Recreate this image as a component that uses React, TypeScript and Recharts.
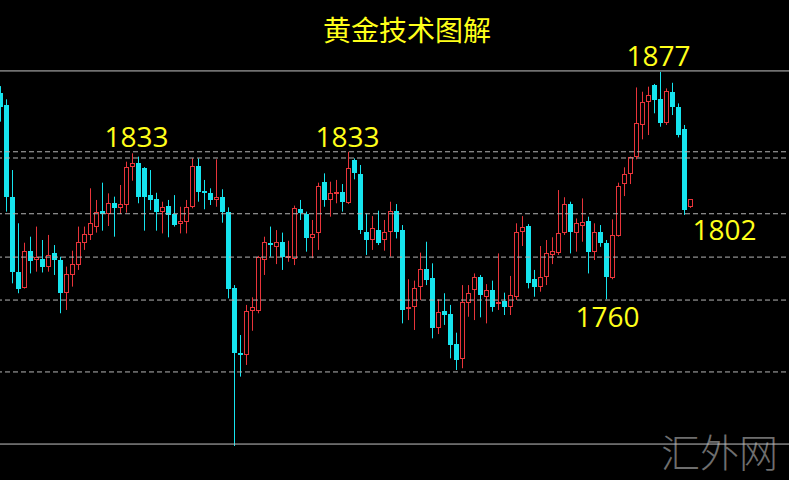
import React from 'react';
import { ComposedChart, Bar, XAxis, YAxis, ReferenceLine, ReferenceDot } from 'recharts';

// ---- data (gold price candles) ----
const opens = [
  1866.0, 1859.9, 1812.8, 1774.2, 1766.0, 1785.0, 1780.2, 1780.5, 1776.8, 1783.6,
  1780.2, 1763.1, 1772.5, 1777.6, 1789.1, 1793.1, 1797.4, 1805.6, 1803.9, 1809.7,
  1806.8, 1808.5, 1827.9, 1829.9, 1827.4, 1813.6, 1811.4, 1805.1, 1808.0, 1803.9,
  1798.7, 1799.9, 1807.3, 1828.6, 1815.9, 1814.8, 1811.1, 1812.8, 1805.1, 1765.6,
  1732.5, 1731.3, 1754.1, 1754.1, 1780.2, 1789.1, 1787.0, 1789.6, 1781.6, 1780.5,
  1806.3, 1803.9, 1791.3, 1793.9, 1820.5, 1811.1, 1814.2, 1815.0, 1809.4, 1831.7,
  1824.5, 1794.8, 1790.5, 1795.6, 1790.5, 1794.8, 1805.6, 1795.6, 1755.3, 1756.2,
  1766.5, 1775.4, 1770.8, 1745.0, 1754.1, 1752.4, 1737.0, 1729.1, 1758.2, 1764.8,
  1771.3, 1761.3, 1764.8, 1757.6, 1759.3, 1756.2, 1761.0, 1794.8, 1797.7, 1770.3,
  1766.1, 1771.6, 1782.8, 1784.0, 1793.9, 1809.0, 1793.9, 1797.9, 1800.4, 1784.5,
  1794.8, 1789.1, 1770.8, 1792.6, 1819.3, 1824.5, 1833.0, 1849.7, 1861.7, 1870.3,
  1862.9, 1850.9, 1866.8, 1859.1, 1847.4, 1807.3,
];
const highs = [
  1869.7, 1862.9, 1826.5, 1799.1, 1789.1, 1792.2, 1797.4, 1790.5, 1793.1, 1787.9,
  1781.9, 1776.8, 1785.0, 1797.4, 1797.4, 1817.1, 1811.1, 1820.0, 1814.5, 1812.8,
  1818.8, 1830.8, 1835.1, 1833.4, 1828.0, 1826.5, 1814.8, 1810.2, 1811.1, 1813.6,
  1807.6, 1811.1, 1832.5, 1832.5, 1821.4, 1817.1, 1832.0, 1816.6, 1807.3, 1767.3,
  1741.6, 1757.1, 1761.0, 1782.3, 1792.2, 1797.4, 1795.6, 1794.3, 1790.1, 1808.2,
  1811.1, 1805.1, 1800.8, 1820.0, 1824.8, 1820.5, 1821.4, 1819.3, 1835.9, 1832.5,
  1829.1, 1804.2, 1802.8, 1805.6, 1800.8, 1810.2, 1809.0, 1798.2, 1770.3, 1769.6,
  1784.0, 1789.6, 1778.5, 1760.0, 1763.1, 1757.1, 1742.8, 1767.3, 1767.3, 1773.3,
  1772.5, 1767.8, 1769.6, 1783.6, 1763.4, 1772.0, 1799.1, 1802.8, 1798.7, 1775.1,
  1787.4, 1790.5, 1791.9, 1816.2, 1812.5, 1810.2, 1801.6, 1811.9, 1802.5, 1799.1,
  1798.2, 1790.5, 1801.1, 1820.0, 1827.9, 1833.4, 1869.0, 1866.8, 1869.4, 1870.8,
  1877.0, 1868.5, 1871.4, 1860.8, 1849.7, 1811.4,
];
const lows = [
  1851.4, 1805.1, 1768.2, 1763.1, 1765.5, 1773.3, 1774.2, 1773.8, 1774.2, 1772.5,
  1752.8, 1754.5, 1766.5, 1775.1, 1785.4, 1790.5, 1794.3, 1795.3, 1797.7, 1792.2,
  1803.9, 1804.6, 1821.0, 1809.4, 1795.3, 1805.9, 1795.3, 1793.9, 1791.9, 1797.4,
  1793.9, 1793.9, 1806.8, 1810.2, 1806.3, 1808.5, 1807.6, 1799.4, 1760.5, 1684.5,
  1720.2, 1726.2, 1743.8, 1752.8, 1772.5, 1781.9, 1778.1, 1775.1, 1779.3, 1777.6,
  1800.8, 1784.5, 1781.1, 1785.4, 1807.6, 1802.5, 1809.4, 1805.1, 1809.0, 1821.7,
  1793.6, 1782.8, 1785.4, 1787.9, 1785.0, 1781.9, 1791.3, 1747.6, 1749.3, 1744.2,
  1759.6, 1767.3, 1739.9, 1742.1, 1746.8, 1729.6, 1723.6, 1724.5, 1751.0, 1749.3,
  1750.7, 1747.6, 1753.6, 1754.5, 1751.9, 1751.9, 1759.6, 1787.4, 1765.6, 1761.3,
  1763.9, 1767.3, 1778.1, 1782.8, 1793.1, 1783.6, 1784.5, 1789.6, 1773.3, 1780.2,
  1787.0, 1760.0, 1770.3, 1792.2, 1813.1, 1819.3, 1832.0, 1842.3, 1844.5, 1855.7,
  1848.8, 1849.7, 1854.8, 1843.3, 1803.4, 1807.0,
];
const closes = [
  1859.1, 1812.8, 1774.2, 1765.1, 1785.0, 1779.7, 1781.9, 1776.8, 1782.8, 1780.2,
  1763.1, 1773.0, 1778.1, 1789.6, 1793.6, 1799.1, 1805.1, 1803.9, 1809.7, 1806.8,
  1809.0, 1828.2, 1830.3, 1812.8, 1812.8, 1811.1, 1805.1, 1807.3, 1803.3, 1798.2,
  1800.4, 1807.6, 1828.6, 1815.4, 1814.8, 1811.1, 1812.8, 1805.1, 1765.1, 1732.2,
  1731.3, 1754.1, 1755.9, 1781.6, 1789.6, 1787.9, 1789.6, 1781.9, 1782.3, 1806.8,
  1804.2, 1791.3, 1793.6, 1818.3, 1811.1, 1814.8, 1815.0, 1810.2, 1827.4, 1824.8,
  1795.6, 1790.5, 1796.5, 1788.8, 1794.8, 1805.6, 1794.8, 1754.5, 1756.2, 1766.0,
  1775.4, 1769.9, 1745.0, 1753.6, 1751.9, 1736.5, 1728.7, 1758.8, 1763.1, 1771.6,
  1762.2, 1764.8, 1756.2, 1758.8, 1756.2, 1762.2, 1794.8, 1797.4, 1768.5, 1766.5,
  1771.6, 1784.0, 1785.0, 1794.3, 1809.0, 1794.8, 1799.1, 1799.9, 1784.5, 1794.8,
  1789.1, 1771.3, 1793.1, 1818.3, 1824.5, 1833.0, 1850.5, 1861.7, 1865.1, 1862.5,
  1850.9, 1867.3, 1859.1, 1844.5, 1805.9, 1811.4,
];

const solidLevels = [1877.5, 1685.5];
const dashedLevels = [1835.9, 1832.7, 1804.0, 1781.7, 1759.6, 1722.6];

const labelTexts = ['1833', '1833', '1877', '1760', '1802'];
const labelX = [22.75, 57.9, 109.75, 101.25, 120.75];
const labelY = [1843.4, 1843.5, 1884.9, 1751.0, 1795.6];

const TITLE = '黄金技术图解';
const WATERMARK = '汇外网';

const SLOTS = 132;
const PRICE_DOMAIN: [number, number] = [1667, 1914];

const CYAN = '#16e4ee';
const RED = '#e8343a';
const YELLOW = '#ffff1a';

const data = Array.from({ length: SLOTS }, (_, i) =>
  i < opens.length
    ? { i, range: [lows[i], highs[i]], open: opens[i], high: highs[i], low: lows[i], close: closes[i] }
    : { i }
);

const Candle = (props: any) => {
  const { x, y, width, height, payload } = props;
  if (!payload || payload.high == null) return null;
  const { open, close, high, low } = payload;
  const top = Math.min(y, y + height);
  const h = Math.abs(height);
  const k = h / (high - low);
  const toY = (v: number) => top + (high - v) * k;
  const cx = Math.floor(x + width / 2) + 0.5;
  const up = close >= open;
  const color = up ? RED : CYAN;
  const yHigh = toY(high);
  const yLow = toY(low);
  const bTop = toY(Math.max(open, close));
  const bBot = toY(Math.min(open, close));
  if (up) {
    const t = Math.round(bTop) + 0.5;
    const b = Math.max(Math.round(bBot) - 0.5, t + 1);
    return (
      <g>
        <line x1={cx} x2={cx} y1={yHigh} y2={yLow} stroke={color} strokeWidth={1} />
        <rect x={cx - 2} y={t} width={4} height={b - t} fill="#000" stroke={color} strokeWidth={1} />
      </g>
    );
  }
  const t = Math.round(bTop);
  const b = Math.max(Math.round(bBot), t + 2);
  return (
    <g>
      <line x1={cx} x2={cx} y1={yHigh} y2={yLow} stroke={color} strokeWidth={1} />
      <rect x={cx - 2.5} y={t} width={5} height={b - t} fill={color} />
    </g>
  );
};

export default function App() {
  return (
    <div
      style={{
        position: 'absolute',
        left: 0,
        top: 0,
        width: 789,
        height: 480,
        background: '#000',
        overflow: 'hidden',
      }}
    >
      <div
        style={{
          position: 'absolute',
          left: 661,
          top: 424,
          fontFamily: '"Noto Sans CJK SC"',
          fontWeight: 300,
          fontSize: 39,
          lineHeight: '52px',
          color: '#6e6e6e',
          letterSpacing: 0,
          whiteSpace: 'nowrap',
        }}
      >
        {WATERMARK}
      </div>
      <div
        style={{
          position: 'absolute',
          left: 323,
          top: 14,
          fontFamily: '"Noto Sans CJK SC"',
          fontSize: 28,
          lineHeight: '30px',
          color: YELLOW,
          whiteSpace: 'nowrap',
        }}
      >
        {TITLE}
      </div>
      <div style={{ position: 'absolute', left: -3, top: 0 }}>
        <ComposedChart width={792} height={480} data={data} margin={{ top: 0, right: 0, bottom: 0, left: 0 }}>
          <XAxis dataKey="i" type="category" hide />
          <XAxis xAxisId="num" dataKey="i" type="number" domain={[-0.5, SLOTS - 0.5]} allowDataOverflow hide />
          <YAxis type="number" domain={PRICE_DOMAIN} allowDataOverflow hide />
          {solidLevels.map((v, idx) => (
            <ReferenceLine key={'s' + idx} y={v} stroke="#c4c4c4" strokeWidth={1} />
          ))}
          {dashedLevels.map((v, idx) => (
            <ReferenceLine key={'d' + idx} y={v} stroke="#b4b4b4" strokeWidth={1} strokeDasharray="5 3" />
          ))}
          <Bar dataKey="range" barSize={5} shape={<Candle />} isAnimationActive={false} />
          {labelTexts.map((t, idx) => (
            <ReferenceDot
              key={'l' + idx}
              xAxisId="num"
              x={labelX[idx]}
              y={labelY[idx]}
              r={0}
              fill="none"
              stroke="none"
              label={{ value: t, position: 'center', fill: YELLOW, fontSize: 28, fontFamily: '"Open Sans"' }}
            />
          ))}
        </ComposedChart>
      </div>
    </div>
  );
}
